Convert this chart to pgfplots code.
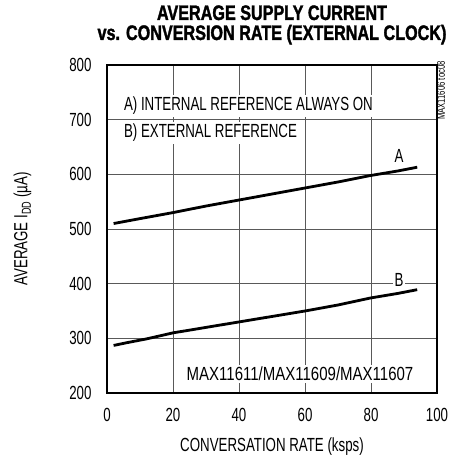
\documentclass[border=0pt]{standalone}
\usepackage{fontspec}
\setmainfont{Liberation Sans}[FakeStretch=0.70]
\newfontfamily\titlefont{Liberation Sans}[FakeStretch=0.77,UprightFont=* Bold,FakeBold=1.5]
\usepackage{pgfplots}
\pgfplotsset{compat=1.18}
\begin{document}
\begin{tikzpicture}[font=\fontsize{19}{21}\selectfont]
\begin{axis}[
  at={(0pt,0pt)}, anchor=south west,
  scale only axis, width=330pt, height=328pt,
  xmin=0, xmax=100, ymin=200, ymax=800,
  xtick={0,20,...,100}, ytick={200,300,...,800},
  major tick length=0pt,
  grid=major, grid style={line width=0.9pt, color=black!65},
  axis line style={line width=2.4pt},
  /pgf/number format/assume math mode=true,
  xticklabel style={yshift=-12pt},
  yticklabel style={xshift=-12pt},
  xlabel={CONVERSATION RATE (ksps)},
  xlabel style={yshift=-9pt},
  ylabel={AVERAGE I\raisebox{-0.35ex}{\fontsize{13}{13}\selectfont DD} (\textmu A)},
  ylabel style={yshift=31pt},
  clip=false,
]
\addplot[line width=2.8pt, black] coordinates {
 (2,510) (10,519) (20,530) (30,542) (40,553) (50,564) (60,575) (70,586) (80,598) (88,606) (94,613)};
\addplot[line width=2.8pt, black] coordinates {
 (2,287) (6,292) (12,299) (20,310) (30,320) (40,330) (50,340) (60,350) (70,361) (80,374) (88,382) (94,389)};
\node[fill=white, inner sep=2pt, anchor=west] at (axis cs:4.5,725) {A) INTERNAL REFERENCE ALWAYS ON};
\node[fill=white, inner sep=2pt, anchor=west] at (axis cs:4.5,676) {B) EXTERNAL REFERENCE};
\node[fill=white, inner sep=2pt] at (axis cs:88.5,634) {A};
\node[fill=white, inner sep=2pt] at (axis cs:88.5,407) {B};
\node[fill=white, inner sep=2pt, anchor=east, font=\fontsize{19}{21}\selectfont\addfontfeatures{FakeStretch=0.79}] at (axis cs:93.5,235) {MAX11611/MAX11609/MAX11607};
\node[rotate=90, anchor=north east, font=\fontsize{11}{12}\selectfont, inner sep=0pt, xshift=4pt] at (axis cs:100,800) {MAX11606 toc08};
\end{axis}
\node[font=\titlefont\fontsize{21}{20}\selectfont, align=center, anchor=base] at (165pt,353pt) {AVERAGE SUPPLY CURRENT\\vs. CONVERSION RATE (EXTERNAL CLOCK)};
\pgfresetboundingbox
\path[use as bounding box] (-107pt,-64pt) rectangle (344pt,393pt);
\end{tikzpicture}
\end{document}
